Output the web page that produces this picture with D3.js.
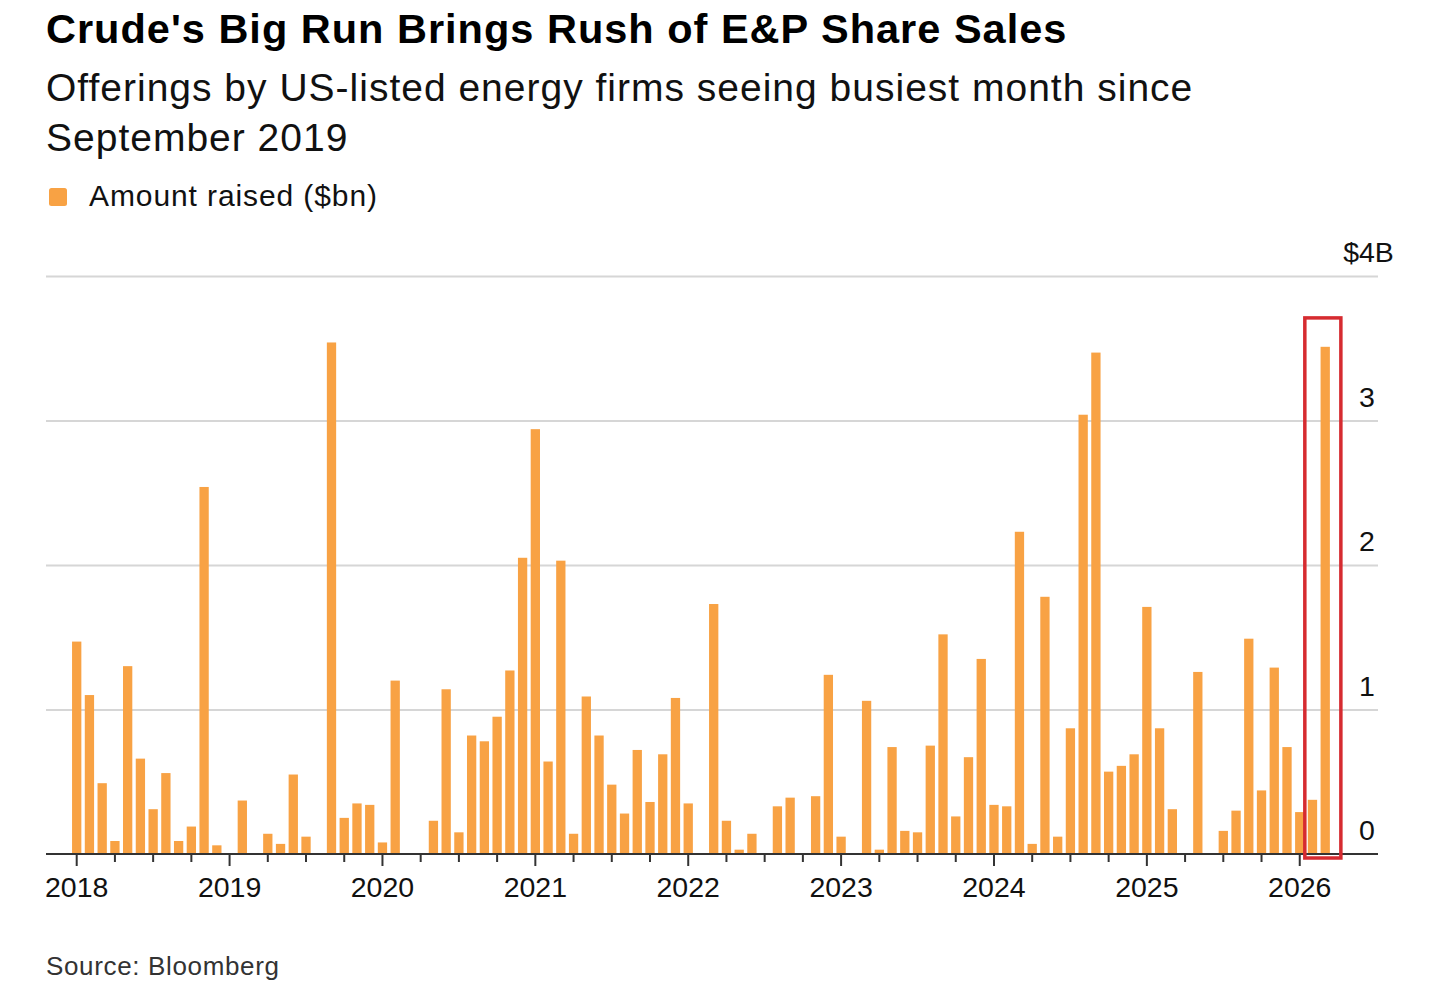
<!DOCTYPE html>
<html>
<head>
<meta charset="utf-8">
<script src="https://cdn.jsdelivr.net/npm/d3@7/dist/d3.min.js"></script>
<style>
  html, body { margin: 0; padding: 0; background: #fff; }
  svg { display: block; }
  text { font-family: "Liberation Sans", Arial, Helvetica, sans-serif; }
</style>
</head>
<body>
<svg id="chart" width="1456" height="990"></svg>
<script>
// ---- Data (US-listed energy share offerings, $bn, monthly) ----
const startYear = 2018;
const values2018 = [1.47, 1.10, 0.49, 0.09, 1.30, 0.66, 0.31, 0.56, 0.09, 0.19, 2.54, 0.06];
const values2019 = [0, 0.37, 0, 0.14, 0.07, 0.55, 0.12, 0, 3.54, 0.25, 0.35, 0.34];
const values2020 = [0.08, 1.20, 0, 0, 0.23, 1.14, 0.15, 0.82, 0.78, 0.95, 1.27, 2.05];
const values2021 = [2.94, 0.64, 2.03, 0.14, 1.09, 0.82, 0.48, 0.28, 0.72, 0.36, 0.69, 1.08];
const values2022 = [0.35, 0, 1.73, 0.23, 0.03, 0.14, 0, 0.33, 0.39, 0, 0.40, 1.24];
const values2023 = [0.12, 0, 1.06, 0.03, 0.74, 0.16, 0.15, 0.75, 1.52, 0.26, 0.67, 1.35];
const values2024 = [0.34, 0.33, 2.23, 0.07, 1.78, 0.12, 0.87, 3.04, 3.47, 0.57, 0.61, 0.69];
const values2025 = [1.71, 0.87, 0.31, 0, 1.26, 0, 0.16, 0.30, 1.49, 0.44, 1.29, 0.74];
const values2026 = [0.29, 0.375, 3.51];
const yearLabels = ["2018", "2019", "2020", "2021", "2022", "2023", "2024", "2025", "2026"];
const yTicks = [0, 1, 2, 3, 4];
const highlightMonths = ["2026-02", "2026-03"];

const title = "Crude's Big Run Brings Rush of E&P Share Sales";
const subtitleLines = ["Offerings by US-listed energy firms seeing busiest month since", "September 2019"];
const legendLabel = "Amount raised ($bn)";
const sourceText = "Source: Bloomberg";

// ---- Build monthly records ----
const allYears = [values2018, values2019, values2020, values2021, values2022, values2023, values2024, values2025, values2026];
const data = [];
allYears.forEach((arr, yi) => {
  arr.forEach((v, mi) => {
    const key = `${startYear + yi}-${String(mi + 1).padStart(2, "0")}`;
    data.push({ key, year: startYear + yi, month: mi, value: v });
  });
});

// ---- Layout ----
const svg = d3.select("#chart");
const W = 1456;
const left = 46, right = 1378;
const firstCenter = 76.7, step = 12.74;
const yBase = 854, yTop = 276;
const orange = "#F8A244";

svg.append("rect").attr("width", W).attr("height", 990).attr("fill", "#fff");

const x = d3.scaleBand()
  .domain(data.map(d => d.key))
  .range([firstCenter - step / 2, firstCenter - step / 2 + step * data.length])
  .paddingInner(0.27)
  .paddingOuter(0.135);
const bw = x.bandwidth();
const cx = k => x(k) + bw / 2;

const y = d3.scaleLinear().domain([0, 4]).range([yBase, yTop]);

// ---- Header ----
svg.append("text").attr("x", 46).attr("y", 43)
  .attr("font-size", 41.5).attr("font-weight", "bold").attr("fill", "#000")
  .attr("letter-spacing", 1)
  .text(title);
subtitleLines.forEach((t, i) => {
  svg.append("text").attr("x", 46).attr("y", 101 + i * 50)
    .attr("font-size", 39).attr("fill", "#111").attr("letter-spacing", 1).text(t);
});
svg.append("rect").attr("x", 49).attr("y", 188).attr("width", 18).attr("height", 18)
  .attr("rx", 2.5).attr("fill", orange);
svg.append("text").attr("x", 89).attr("y", 206)
  .attr("font-size", 30).attr("fill", "#111").attr("letter-spacing", 0.9).text(legendLabel);

// ---- Gridlines & y labels ----
const yAxis = d3.axisRight(y).tickValues(yTicks).tickSize(right - left).tickFormat("");
const gy = svg.append("g").attr("transform", `translate(${left},0)`).call(yAxis);
gy.select(".domain").remove();
gy.selectAll(".tick line").attr("stroke", "#d6d6d6").attr("stroke-width", 2)
  .filter(d => d === 0).remove();

const labX = 1359;
yTicks.forEach(t => {
  const g = svg.append("text").attr("y", y(t) - 14).attr("font-size", 28.5).attr("fill", "#111");
  if (t === 4) {
    g.attr("x", labX).text("4B");
    svg.append("text").attr("x", labX).attr("y", y(t) - 14).attr("font-size", 28.5)
      .attr("fill", "#111").attr("text-anchor", "end").text("$");
  } else {
    g.attr("x", labX).text(String(t));
  }
});

// ---- Bars ----
svg.append("g").selectAll("rect").data(data.filter(d => d.value > 0)).join("rect")
  .attr("x", d => x(d.key))
  .attr("width", bw)
  .attr("y", d => y(d.value))
  .attr("height", d => y(0) - y(d.value))
  .attr("fill", orange);

// ---- X axis ----
svg.append("line").attr("x1", left).attr("x2", right).attr("y1", yBase).attr("y2", yBase)
  .attr("stroke", "#333").attr("stroke-width", 2.2);

const quarterKeys = data.filter(d => d.month % 3 === 0).map(d => d.key);
svg.append("g").selectAll("line").data(quarterKeys).join("line")
  .attr("x1", k => cx(k)).attr("x2", k => cx(k))
  .attr("y1", yBase)
  .attr("y2", k => k.endsWith("-01") ? yBase + 12 : yBase + 8)
  .attr("stroke", "#333").attr("stroke-width", 2);

svg.append("g").selectAll("text").data(yearLabels).join("text")
  .attr("x", t => cx(`${t}-01`))
  .attr("y", 897)
  .attr("text-anchor", "middle")
  .attr("font-size", 28.5).attr("fill", "#111")
  .text(t => t);

// ---- Highlight box ----
const hx0 = x(highlightMonths[0]) - 3;
const hx1 = x(highlightMonths[highlightMonths.length - 1]) + bw + 11;
svg.append("rect")
  .attr("x", hx0).attr("y", y(3.71))
  .attr("width", hx1 - hx0).attr("height", yBase + 4 - y(3.71))
  .attr("fill", "none").attr("stroke", "#D62B30").attr("stroke-width", 3.5);

// ---- Source ----
svg.append("text").attr("x", 46).attr("y", 975)
  .attr("font-size", 26).attr("fill", "#333").attr("letter-spacing", 0.65).text(sourceText);
</script>
</body>
</html>
